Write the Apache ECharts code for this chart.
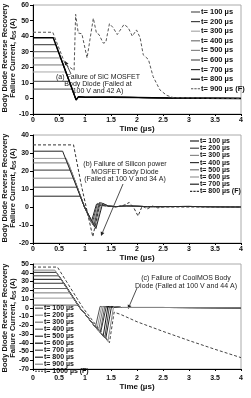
<!DOCTYPE html>
<html>
<head>
<meta charset="utf-8">
<script src="https://cdn.jsdelivr.net/npm/echarts@6/dist/echarts.min.js"></script>
<style>
html,body{margin:0;padding:0;background:#fff}
#chart{width:251px;height:398px}
</style>
</head>
<body>
<div id="chart"></div>
<script>
// tick labels / legend names
var xTicks = [0, 0.5, 1, 1.5, 2, 2.5, 3, 3.5, 4];
var sicNames = ['t= 100 µs','t= 200 µs','t= 300 µs','t= 400 µs','t= 500 µs','t= 600 µs','t= 700 µs','t= 800 µs','t= 900 µs (F)'];
var siNames = ['t= 100 µs','t= 200 µs','t= 300 µs','t= 400 µs','t= 500 µs','t= 600 µs','t= 700 µs','t= 800 µs (F)'];
var coolNames = ['t= 100 µs','t= 200 µs','t= 300 µs','t= 400 µs','t= 500 µs','t= 600 µs','t= 700 µs','t= 800 µs','t= 900 µs','t= 1000 µs (F)'];

// (a) SiC MOSFET body diode
var sicLevels = [6, 11, 17, 21.5, 26, 30, 34.5, 39];
var sicOff = [0.75, 0.70, 0.63, 0.58, 0.53, 0.49, 0.44, 0.39];
var sicTail = [[0.83,-1],[0.87,1],[1.0,0.7],[1.5,0.8],[2.0,0.6],[2.6,0.3],[4,0]];
var sicFail = [[0,42.5],[0.38,42.5],[0.62,22],[0.79,18],[0.82,54],[0.87,42],[0.94,41.5],[1.04,26],[1.16,51.5],[1.22,42],[1.27,41],[1.35,35.5],[1.4,36],[1.47,48],[1.54,45.5],[1.62,41],[1.75,47.5],[1.83,45.5],[1.91,40],[1.99,44],[2.06,39],[2.12,28],[2.22,25],[2.31,14],[2.44,5.5],[2.57,2],[2.7,0.5],[4,0]];

// (b) Silicon power MOSFET body diode
var siLevels = [6, 11, 16, 20.5, 24.5, 27, 31];
var siOff = [0.91, 0.85, 0.79, 0.73, 0.68, 0.64, 0.57];
var siMinT = [1.12, 1.14, 1.15, 1.17, 1.18, 1.2, 1.21];
var siMin = [-8.5, -9, -10, -10.5, -11, -11.5, -12];
var siPeakT = [1.22, 1.24, 1.26, 1.28, 1.3, 1.32, 1.34];
var siPeak = [1.5, 2, 2, 2.5, 2.5, 2, 2];
var siTail = [[1.45,0.5],[1.6,0.2],[1.8,0.6],[2.2,0.2],[3,0.3],[4,0]];
var siFail = [[0,34.5],[0.78,34.5],[0.93,12],[1.15,-16.5],[1.28,1],[1.4,0.5],[1.6,0],[1.75,1],[1.85,2.5],[1.93,0],[2.02,-5],[2.1,0.5],[2.2,-1],[2.3,0.5],[2.4,-0.5],[2.5,0],[4,0]];

// (c) CoolMOS body diode
var coolLevels = [3, 11, 17, 22, 28, 32.5, 36.5, 40.5, 43];
var coolOff = [0.88, 0.79, 0.72, 0.66, 0.6, 0.54, 0.5, 0.45, 0.42];
var coolFall = [[0.9,0],[1.0,-7],[1.1,-14.5],[1.2,-22],[1.3,-28.5],[1.4,-35],[1.45,-38.5]];
var coolMinT = [1.2, 1.23, 1.26, 1.29, 1.32, 1.35, 1.38, 1.41, 1.44];
var coolMin = [-22, -24.5, -26.5, -28.5, -30.5, -32.5, -34.5, -36.5, -38.5];
var coolTopT = [1.29, 1.32, 1.35, 1.38, 1.41, 1.44, 1.47, 1.51, 1.55];
var coolTail = [[1.7,0.3],[2.5,0.3],[4,0]];
var coolFail = [[0,46.5],[0.47,46.5],[0.96,0],[1.2,-19],[1.47,-40],[1.56,-5],[1.7,-8],[2.0,-16],[2.5,-27],[3.0,-37.5],[3.5,-47.5],[4.0,-57]];

var sicColors = ['#555','#444','#aaa','#777','#888','#555','#333','#000','#555'];
var siColors = ['#222','#444','#888','#333','#777','#999','#222','#333'];
var coolColors = ['#555','#999','#777','#666','#333','#111','#444','#222','#888','#444'];

var FONT = 'Liberation Sans, Arial, sans-serif';
var labelMap = {};
var DASH_ICON = 'path://M0,0h2v1h-2zM3,0h2v1h-2zM6,0h2v1h-2z';

function line(id, label, pts, color, idx, width, dashed) {
    labelMap[id] = label;
    return {
        name: id, type: 'line', xAxisIndex: idx, yAxisIndex: idx,
        data: pts, symbol: 'none', silent: true,
        lineStyle: {color: color, width: width || 1, type: dashed ? [3, 2] : 'solid'},
        itemStyle: {color: color}
    };
}

var series = [];
// plot a
sicLevels.forEach(function (L, i) {
    var pts = [[0, L], [sicOff[i], L]].concat(sicTail);
    series.push(line('a' + i, sicNames[i], pts, sicColors[i], 0, i == 7 ? 1.5 : 1));
});
series.push(line('a8', sicNames[8], sicFail, sicColors[8], 0, 1, true));
// plot b
siLevels.forEach(function (L, i) {
    var pts = [[0, L], [siOff[i], L], [0.99, 0], [siMinT[i], siMin[i]], [siPeakT[i], siPeak[i]]].concat(siTail);
    series.push(line('b' + i, siNames[i], pts, siColors[i], 1));
});
series.push(line('b7', siNames[7], siFail, siColors[7], 1, 1, true));
// plot c
coolLevels.forEach(function (L, i) {
    var pts = [[0, L], [coolOff[i], L]];
    coolFall.forEach(function (p) { if (p[0] > coolOff[i] && p[0] < coolMinT[i]) pts.push(p); });
    pts.push([coolMinT[i], coolMin[i]], [coolTopT[i], 1.5]);
    series.push(line('c' + i, coolNames[i], pts.concat(coolTail), coolColors[i], 2));
});
series.push(line('c9', coolNames[9], coolFail, coolColors[9], 2, 1, true));

// legend entries: plain bar for solid lines, dashed bar for the failed one
function ids(p, n) {
    var r = [];
    for (var i = 0; i < n; i++) r.push({name: p + i, icon: i == n - 1 ? DASH_ICON : 'rect'});
    return r;
}

var tickFont = {fontSize: 7, fontWeight: 'bold', fontFamily: FONT, color: '#111'};

function xAx(idx, margin, gap) {
    return {
        gridIndex: idx, type: 'value', min: 0, max: 4, interval: 0.5,
        name: 'Time (µs)', nameLocation: 'middle', nameGap: gap,
        nameTextStyle: {fontSize: 8, fontWeight: 'bold', fontFamily: FONT, color: '#111'},
        axisLine: {onZero: false, lineStyle: {color: '#000', width: 1}},
        axisTick: {show: true, inside: false, length: 2, lineStyle: {color: '#000'}},
        axisLabel: Object.assign({margin: margin}, tickFont),
        splitLine: {show: false}
    };
}
function yAx(idx, min, max) {
    return {
        gridIndex: idx, type: 'value', min: min, max: max, interval: 10,
        axisLine: {show: true, lineStyle: {color: '#000', width: 1}},
        axisTick: {show: true, inside: false, length: 3, lineStyle: {color: '#000'}},
        axisLabel: Object.assign({margin: 4}, tickFont),
        splitLine: {show: false}
    };
}
function legend(prefix, n, left, top, lh, gap, w, fs) {
    return {
        data: ids(prefix, n), orient: 'vertical', left: left, top: top,
        itemWidth: w, itemHeight: 1.2, itemGap: gap, padding: 0, selectedMode: false,
        formatter: function (name) { return labelMap[name]; },
        textStyle: {fontSize: fs, fontWeight: 'bold', fontFamily: FONT, color: '#111', lineHeight: lh, padding: [0, 0, 0, -4]}
    };
}

var titleRich = {
    b: {fontSize: 7.5, fontWeight: 'bold', fontFamily: FONT, fill: '#111'},
    i: {fontSize: 7.5, fontWeight: 'bold', fontStyle: 'italic', fontFamily: FONT, fill: '#111'},
    s: {fontSize: 5, fontWeight: 'bold', fontFamily: FONT, fill: '#111', padding: [4, 0, 0, 0]}
};
function yTitle(cy) {
    return {
        type: 'text', x: 8.5, y: cy, rotation: Math.PI / 2, silent: true,
        style: {
            text: '{b|Body Diode Reverse Recovery}\n{b|Failure Current, }{i|I}{s|DS}{b| (A)}',
            rich: titleRich, align: 'center', verticalAlign: 'middle', lineHeight: 8
        }
    };
}
function note(cx, top, txt, lh) {
    return {
        type: 'text', x: cx, y: top, silent: true,
        style: {text: txt, align: 'center', verticalAlign: 'top', lineHeight: lh,
            font: '7px ' + FONT, fill: '#222'}
    };
}
function arrow(x1, y1, x2, y2) {
    var a = Math.atan2(y2 - y1, x2 - x1), h = 4, w = 2;
    var bx = x2 - h * Math.cos(a), by = y2 - h * Math.sin(a);
    return [
        {type: 'line', silent: true, shape: {x1: x1, y1: y1, x2: bx, y2: by}, style: {stroke: '#222', lineWidth: 0.8}},
        {type: 'polygon', silent: true, shape: {points: [[x2, y2], [bx - w * Math.sin(a), by + w * Math.cos(a)], [bx + w * Math.sin(a), by - w * Math.cos(a)]]}, style: {fill: '#222'}}
    ];
}

var graphics = [yTitle(58), yTitle(188), yTitle(318),
    note(98, 73.5, '(a) Failure of SiC MOSFET\nBody Diode (Failed at\n100 V and 42 A)', 7),
    note(125, 160, '(b) Failure of Silicon power\nMOSFET Body Diode\n(Failed at 100 V and 34 A)', 7.8),
    note(186, 274.5, '(c) Failure of CoolMOS Body\nDiode (Failed at 100 V and 44 A)', 7.4)
].concat(arrow(71, 74, 65, 61), arrow(123, 184, 101, 236), arrow(137, 288, 128, 309));

var option = {
    animation: false,
    grid: [
        {left: 33, right: 10, top: 5, height: 109, show: true, borderColor: '#aaa', borderWidth: 1},
        {left: 33, right: 10, top: 135, height: 108, show: true, borderColor: '#aaa', borderWidth: 1},
        {left: 33, right: 10, top: 264, height: 105, show: true, borderColor: '#aaa', borderWidth: 1}
    ],
    xAxis: [xAx(0, 3, 9), xAx(1, 3, 9), xAx(2, 6, 13)],
    yAxis: [yAx(0, -10, 60), yAx(1, -20, 40), yAx(2, -70, 50)],
    legend: [
        legend('a', 9, 191, 8, 7, 1.6, 9, 7.5),
        legend('b', 8, 190, 137.5, 7, 0.2, 9, 7),
        legend('c', 10, 35, 304.7, 6.6, 0, 8, 7)
    ],
    graphic: graphics,
    series: series
};

var chart = echarts.init(document.getElementById('chart'));
chart.setOption(option);
</script>
</body>
</html>
